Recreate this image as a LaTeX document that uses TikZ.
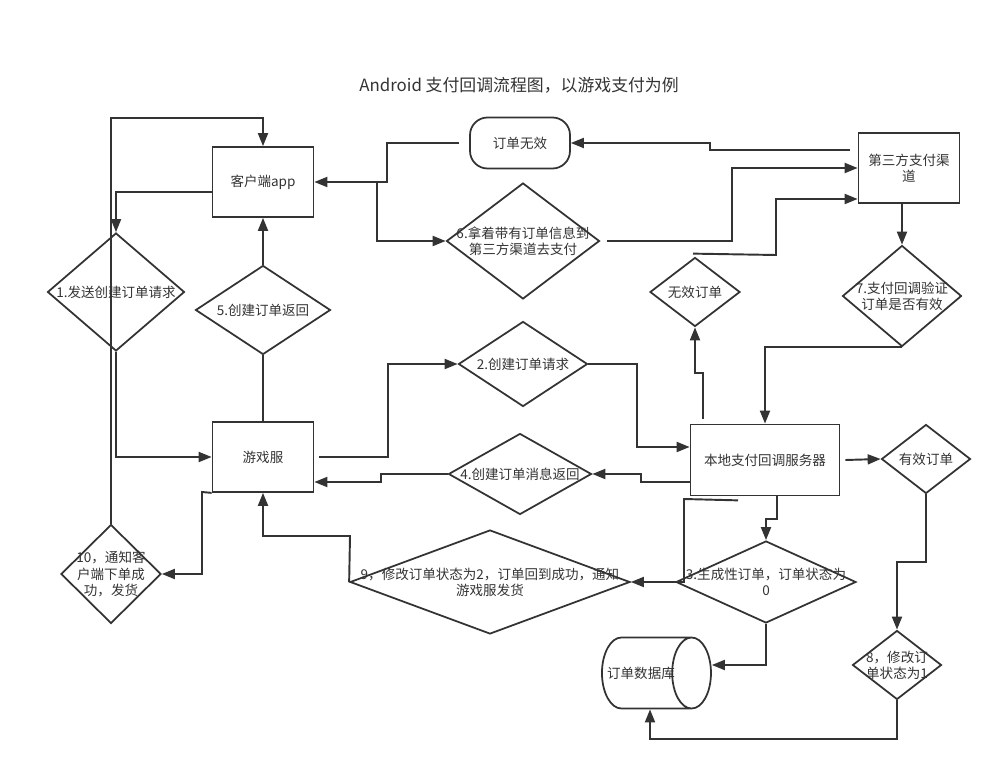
\documentclass[tikz,border=0pt]{standalone}
\usepackage{fontspec}
\setmainfont{Noto Sans CJK SC}
\usetikzlibrary{shapes.geometric,arrows.meta,calc}

\begin{document}
\begin{tikzpicture}[x=0.02cm,y=-0.02cm,
        every node/.style={text=black!80,font=\fontsize{7.7pt}{9.2pt}\selectfont},
        box/.style={draw=black!80,line width=1pt,minimum width=2.02cm,minimum height=1.4cm,align=center},
        dia/.style={draw=black!80,line width=1pt,diamond,inner sep=0pt},
        txt/.style={align=center},
        arr/.style={draw=black!80,line width=1.1pt,-{Triangle[length=2.6mm,width=2mm]}},
        ln/.style={draw=black!80,line width=1.1pt}]
        \useasboundingbox (0,0) rectangle (1004,770);
        \node[font=\fontsize{9.6pt}{11pt}\selectfont](title) at (519,85) {Android 支付回调流程图，以游戏支付为例};
        % boxes
        \node[box](app) at (263,182) {客户端app};
        \node[box](game) at (263,457) {游戏服};
        \node[box](third) at (909,168) {第三方支付渠\\道};
        \node[box,minimum width=2.98cm,minimum height=1.42cm](local) at (765,460) {本地支付回调服务器};
        \node[box,minimum width=2cm,minimum height=1.02cm,rounded corners=0.35cm](invalid) at (520,143) {订单无效};
        \node[draw=black!80,line width=1pt,cylinder,inner xsep=-2pt,minimum width=1.42cm,minimum height=1.96cm,aspect=1.6](db) at (641,673) {订单数据库};
        % diamonds
        \node[dia,minimum width=2.74cm,minimum height=2.36cm,label={[txt]center:1.发送创建订单请求}](d1) at (116,292) {};
        \node[dia,minimum width=2.7cm,minimum height=1.78cm,label={[txt]center:5.创建订单返回}](d5) at (263,310) {};
        \node[dia,minimum width=3.06cm,minimum height=2.32cm,label={[txt]center:{6.拿着带有订单信息到\\第三方渠道去支付}}](d6) at (523,241) {};
        \node[dia,minimum width=1.8cm,minimum height=1.38cm,label={[txt]center:无效订单}](bad) at (695,292) {};
        \node[dia,minimum width=2.38cm,minimum height=2.02cm,label={[txt]center:{7.支付回调验证\\订单是否有效}}](d7) at (902,296) {};
        \node[dia,minimum width=2.58cm,minimum height=1.7cm,label={[txt]center:2.创建订单请求}](d2) at (523,364) {};
        \node[dia,minimum width=2.86cm,minimum height=1.62cm,label={[txt]center:4.创建订单消息返回}](d4) at (520,474) {};
        \node[dia,minimum width=1.78cm,minimum height=1.38cm,label={[txt]center:有效订单}](good) at (926,459) {};
        \node[dia,minimum width=2cm,minimum height=1.98cm,label={[txt]center:{10，通知客\\户端下单成\\功，发货}}](d10) at (111,574) {};
        \node[dia,minimum width=5.6cm,minimum height=2.08cm,label={[txt]center:{9，修改订单状态为2，订单回到成功，通知\\游戏服发货}}](d9) at (490,582) {};
        \node[dia,minimum width=3.6cm,minimum height=1.64cm,label={[txt]center:{3.生成性订单，订单状态为\\0}}](d3) at (766,582) {};
        \node[dia,minimum width=1.78cm,minimum height=1.38cm,label={[txt]center:{8，修改订\\单状态为1}}](d8) at (897,665) {};
        % connectors
        \draw[arr] (d10.north) -- (111,118) -| (app.north);
        \draw[arr] ($(app.west)+(0,10)$) -| (d1.north);
        \draw[arr] (d1.south) |- (game.west);
        \draw[ln] (game.north) -- (d5.south);
        \draw[arr] (d5.north) -- (app.south);
        \draw[arr] ($(game.east)+(5,0)$) -- (388,457) |- (d2.west);
        \draw[arr] (d2.east) -- (637,364) |- ($(local.west)+(0,-13)$);
        \draw[arr] ($(local.west)+(0,22)$) -- (641,482) |- (d4.east);
        \draw[arr] (d4.west) -- (381,474) |- ($(game.east)+(0,25)$);
        \draw[arr] ($(local.north)+(-62,-5)$) -- (703,373) -| (bad.south);
        \draw[arr] ($(bad.north)+(-2,-3)$) -- (776,255) |- ($(third.west)+(0,31)$);
        \draw[arr] ($(d6.east)+(7,0)$) -- (732,241) |- (third.west);
        \draw[arr] ($(third.west)+(-8,-18)$) -- (710,150) |- (invalid.east);
        \draw[arr] ($(invalid.west)+(-10,0)$) -- (387,143) |- (app.east);
        \draw[arr] ($(app.east)+(5,0)$) -- (377,182) |- (d6.west);
        \draw[arr] (d7.north |- third.south) -- (d7.north);
        \draw[arr] (d7.south) -| (local.north);
        \draw[arr] ($(local.east)+(5,0)$) -- (good.west);
        \draw[arr] (good.south) -- (926,562) -| (d8.north);
        \draw[arr] (d8.south) -- (897,739) -| ($(db.south)+(9,0)$);
        \draw[arr] (d3.south) |- ($(db.east)+(0,-8)$);
        \draw[arr] ($(local.south)+(12,0)$) -- (777,519) -| (d3.north);
        \draw[arr] ($(local.south)+(-27,4)$) -- (684,499) |- (d9.east);
        \draw[arr] (d9.west) -- (350,536) -| (game.south);
        \draw[arr] (game.south west) -- (202,492) |- (d10.east);
\end{tikzpicture}
\end{document}
